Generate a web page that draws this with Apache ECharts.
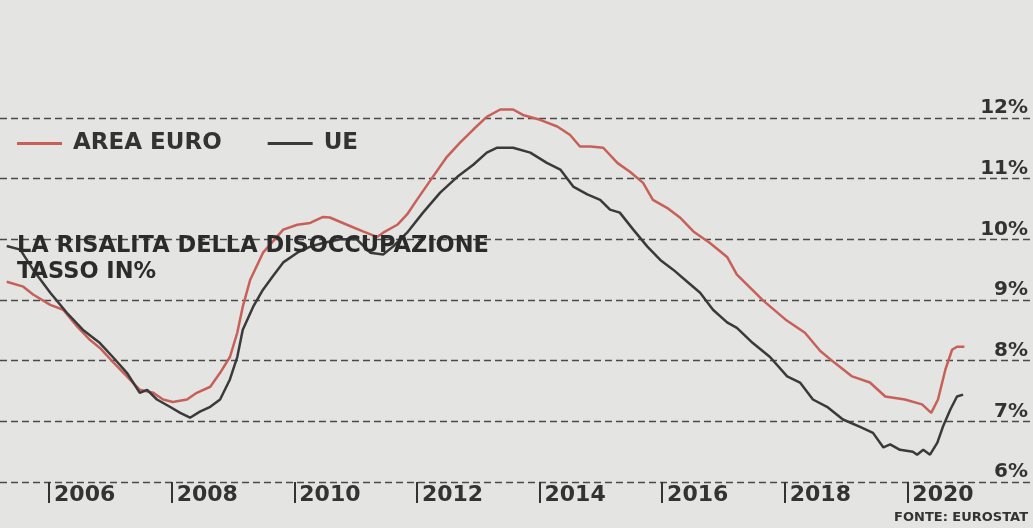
<!DOCTYPE html>
<html>
<head>
<meta charset="utf-8">
<title>La risalita della disoccupazione</title>
<script src="https://cdn.jsdelivr.net/npm/echarts@6/dist/echarts.min.js"></script>
<style>
  html, body { margin: 0; padding: 0; background: #e4e4e2; }
  #chart { width: 1033px; height: 528px; }
</style>
</head>
<body>
<div id="chart"></div>
<script>
  // tasso di disoccupazione (anno decimale, %)
  var euroYears = [2005.31, 2005.58, 2005.74, 2006.02, 2006.23, 2006.46, 2006.67, 2006.83, 2007.04, 2007.27,
    2007.48, 2007.70, 2007.86, 2008.02, 2008.25, 2008.41, 2008.63, 2008.79, 2008.95, 2009.07,
    2009.16, 2009.28, 2009.49, 2009.82, 2010.05, 2010.26, 2010.47, 2010.58, 2010.86, 2011.12,
    2011.35, 2011.45, 2011.68, 2011.84, 2012.00, 2012.26, 2012.49, 2012.70, 2012.92, 2013.14,
    2013.36, 2013.57, 2013.73, 2014.01, 2014.29, 2014.50, 2014.66, 2014.83, 2015.04, 2015.27,
    2015.48, 2015.69, 2015.85, 2016.08, 2016.29, 2016.51, 2016.78, 2017.06, 2017.22, 2017.65,
    2018.01, 2018.33, 2018.58, 2018.82, 2019.10, 2019.39, 2019.64, 2019.96, 2020.24, 2020.39,
    2020.50, 2020.62, 2020.73, 2020.81, 2020.93];
  var euroRate = [9.30, 9.22, 9.09, 8.92, 8.84, 8.56, 8.34, 8.21, 7.98, 7.74,
    7.52, 7.47, 7.36, 7.32, 7.36, 7.47, 7.57, 7.80, 8.06, 8.46,
    8.89, 9.33, 9.78, 10.16, 10.24, 10.27, 10.37, 10.36, 10.24, 10.13,
    10.04, 10.11, 10.24, 10.41, 10.65, 11.03, 11.36, 11.59, 11.81, 12.02,
    12.14, 12.14, 12.05, 11.97, 11.86, 11.72, 11.53, 11.53, 11.51, 11.26,
    11.11, 10.93, 10.65, 10.52, 10.36, 10.13, 9.94, 9.71, 9.42, 8.99,
    8.68, 8.46, 8.16, 7.96, 7.74, 7.64, 7.41, 7.36, 7.28, 7.14,
    7.36, 7.85, 8.18, 8.23, 8.23];

  var ueYears = [2005.31, 2005.53, 2005.74, 2006.02, 2006.29, 2006.55, 2006.83, 2007.04, 2007.27, 2007.48,
    2007.60, 2007.76, 2007.97, 2008.14, 2008.30, 2008.46, 2008.63, 2008.79, 2008.95, 2009.07,
    2009.16, 2009.33, 2009.49, 2009.65, 2009.82, 2010.05, 2010.26, 2010.47, 2010.75, 2011.02,
    2011.24, 2011.45, 2011.61, 2011.84, 2012.10, 2012.38, 2012.66, 2012.92, 2013.14, 2013.31,
    2013.57, 2013.85, 2014.12, 2014.34, 2014.55, 2014.78, 2014.99, 2015.15, 2015.31, 2015.53,
    2015.76, 2015.97, 2016.18, 2016.41, 2016.62, 2016.83, 2017.06, 2017.22, 2017.48, 2017.76,
    2018.04, 2018.25, 2018.46, 2018.69, 2018.95, 2019.23, 2019.44, 2019.61, 2019.72, 2019.88,
    2020.09, 2020.16, 2020.26, 2020.37, 2020.49, 2020.58, 2020.70, 2020.81, 2020.91];
  var ueRate = [9.89, 9.83, 9.50, 9.12, 8.79, 8.51, 8.29, 8.06, 7.80, 7.47,
    7.52, 7.36, 7.24, 7.14, 7.06, 7.16, 7.24, 7.36, 7.69, 8.06,
    8.51, 8.89, 9.17, 9.39, 9.62, 9.78, 9.88, 9.94, 10.00, 10.00,
    9.78, 9.75, 9.88, 10.11, 10.44, 10.77, 11.03, 11.23, 11.43, 11.51,
    11.51, 11.43, 11.26, 11.15, 10.87, 10.74, 10.65, 10.49, 10.44, 10.16,
    9.88, 9.66, 9.50, 9.30, 9.12, 8.84, 8.63, 8.54, 8.29, 8.06,
    7.74, 7.64, 7.36, 7.24, 7.03, 6.91, 6.81, 6.57, 6.62, 6.53,
    6.50, 6.45, 6.53, 6.45, 6.65, 6.91, 7.19, 7.41, 7.44];

  var yearTicks = [2006, 2008, 2010, 2012, 2014, 2016, 2018, 2020];
  var seriesNames = ['AREA EURO', 'UE'];

  function pairs(xs, ys) {
    var out = [];
    for (var i = 0; i < xs.length; i++) {
      out.push([xs[i], ys[i]]);
    }
    return out;
  }

  var chart = echarts.init(document.getElementById('chart'));
  var option = {
    backgroundColor: '#e4e4e2',
    animation: false,
    title: {
      text: 'LA RISALITA DELLA DISOCCUPAZIONE\nTASSO IN%',
      left: 17,
      top: 233,
      padding: 0,
      textStyle: {
        fontFamily: 'DejaVu Sans',
        fontSize: 22.5,
        fontWeight: 'bold',
        lineHeight: 26,
        color: '#2b2b2b'
      }
    },
    legend: {
      left: 17,
      top: 132,
      padding: 0,
      itemGap: 46,
      itemWidth: 45,
      itemHeight: 3,
      icon: 'rect',
      data: seriesNames,
      textStyle: {
        fontFamily: 'DejaVu Sans',
        fontSize: 23,
        fontWeight: 'bold',
        lineHeight: 22,
        color: '#333',
        padding: [0, 0, 0, 6]
      }
    },
    grid: {
      left: 0,
      right: 0,
      top: 118,
      bottom: 46
    },
    xAxis: {
      type: 'value',
      min: 2005.2,
      max: 2022.05,
      axisLine: { show: false },
      splitLine: { show: false },
      axisTick: {
        customValues: yearTicks,
        length: 21,
        lineStyle: { color: '#333', width: 2 }
      },
      axisLabel: {
        customValues: yearTicks,
        formatter: function (v) { return String(v); },
        align: 'left',
        verticalAlign: 'top',
        margin: 2,
        padding: [0, 0, 0, 5],
        fontFamily: 'DejaVu Sans',
        fontSize: 22,
        fontWeight: 'bold',
        color: '#333'
      }
    },
    yAxis: {
      type: 'value',
      position: 'right',
      min: 6,
      max: 12,
      interval: 1,
      axisLine: { show: false },
      axisTick: { show: false },
      axisLabel: {
        inside: true,
        margin: 5,
        verticalAlign: 'bottom',
        fontFamily: 'DejaVu Sans',
        fontSize: 20,
        fontWeight: 'bold',
        color: '#333',
        formatter: '{value}%'
      },
      splitLine: {
        lineStyle: { color: '#4a4a4a', width: 1.3, type: [7, 4] }
      }
    },
    series: [
      {
        name: seriesNames[0],
        type: 'line',
        showSymbol: false,
        clip: false,
        color: '#c8605a',
        lineStyle: { width: 2.5, color: '#c8605a' },
        data: pairs(euroYears, euroRate)
      },
      {
        name: seriesNames[1],
        type: 'line',
        showSymbol: false,
        clip: false,
        color: '#3a3a3a',
        lineStyle: { width: 2.5, color: '#3a3a3a' },
        data: pairs(ueYears, ueRate)
      }
    ],
    graphic: [
      {
        type: 'text',
        right: 5,
        bottom: 4,
        style: {
          text: 'FONTE: EUROSTAT',
          fontFamily: 'DejaVu Sans',
          fontSize: 13,
          fontWeight: 'bold',
          fill: '#333'
        }
      }
    ]
  };
  chart.setOption(option);
</script>
</body>
</html>
